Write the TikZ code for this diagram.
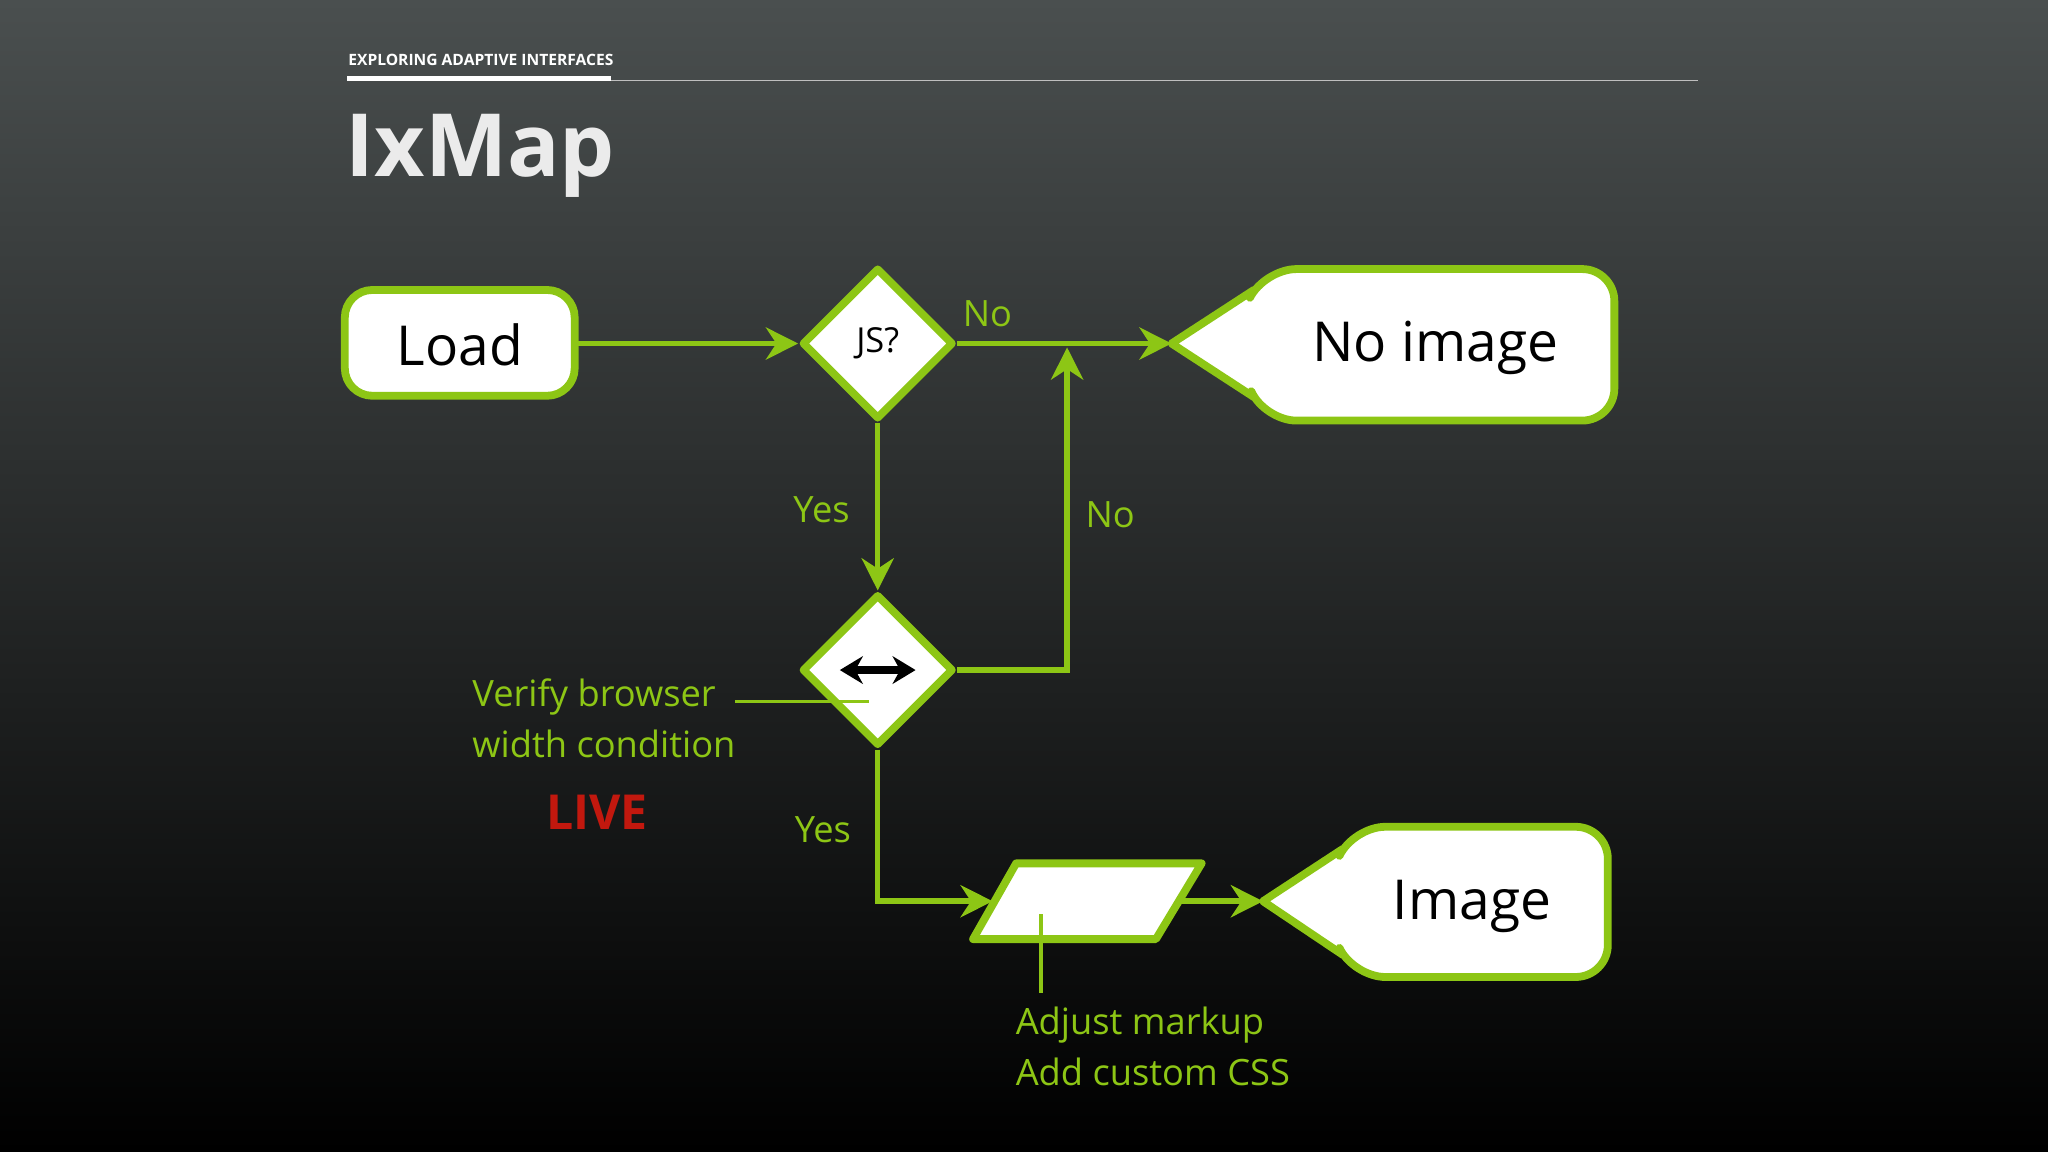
\documentclass[tikz,border=0pt]{standalone}
\usepackage{fontspec}
\setmainfont{Open Sans}
\usetikzlibrary{arrows.meta,shapes.geometric}
\definecolor{gr}{HTML}{8DC615}
\definecolor{lv}{HTML}{C2180E}
\definecolor{bgtop}{HTML}{4A4F4F}
\tikzset{
 shp/.style={draw=gr,fill=white,line width=1.7pt,line join=round},
 con/.style={draw=gr,line width=1.2pt},
 arr/.style={con,-{Stealth[length=7pt,width=7pt]}},
 lbl/.style={text=gr,font=\fontsize{7.9}{10}\selectfont,inner sep=0pt},
 big/.style={font=\fontsize{12}{14}\selectfont}
}
\begin{document}
\begin{tikzpicture}[x=0.1mm,y=0.1mm]
\shade[top color=bgtop,bottom color=black] (0,0) rectangle (1568,-882);
\useasboundingbox (0,0) rectangle (1568,-882);
% header
\node[anchor=base west,inner sep=0pt,text=white,font=\bfseries\fontsize{3.4}{4}\selectfont] (hdr) at (266,-50) {EXPLORING ADAPTIVE INTERFACES};
\draw[white!75!black,line width=0.35pt] (468,-61.5) -- (1300,-61.5);
\draw[white,line width=1.1pt] (266,-60) -- (468,-60);
\node[anchor=base west,inner sep=0pt,text=white!92!black,font=\bfseries\fontsize{19}{22}\selectfont] (title) at (264,-135) {IxMap};
% shapes
\draw[shp,rounded corners=6pt] (264,-222) rectangle (440,-303);
\node[big] (load) at (352,-264) {Load};
\coordinate (loadR) at (441,-263);
\node[shp,diamond,minimum width=33pt,minimum height=33pt,inner sep=0pt,font=\fontsize{7.5}{9}\selectfont] (js) at (672,-263) {JS?};
\node[shp,diamond,minimum width=33pt,minimum height=33pt,inner sep=0pt] (w) at (672,-513) {};
\draw[line width=1.6pt,{Stealth[length=5pt,width=6pt]}-{Stealth[length=5pt,width=6pt]}] (643,-513) -- (701,-513);
% no image callout
\draw[shp] (897,-263) -- (960,-222) [rounded corners=7pt] -- (968,-206) -- (1236,-206) -- (1236,-322) -- (968,-322) [sharp corners] -- (960,-304) -- cycle;
\coordinate (nitip) at (897,-263);
\node[big] (noimg) at (1099,-266) {No image};
% image callout
\draw[shp] (967,-690) -- (1028,-650) [rounded corners=7pt] -- (1036,-633) -- (1231,-633) -- (1231,-748) -- (1036,-748) [sharp corners] -- (1028,-731) -- cycle;
\coordinate (imtip) at (967,-690);
\node[big] (img) at (1127,-694) {Image};
% parallelogram
\draw[shp] (745,-719) -- (778,-661) -- (920,-661) -- (885,-719) -- cycle;
\coordinate (parL) at (760,-690);
\coordinate (parR) at (903,-690);
% connectors
\draw[arr] (loadR) -- (js.west);
\draw[arr] (js.east) -- (nitip);
\draw[arr] (js.south) -- (w.north);
\coordinate (up) at (817,-513);
\coordinate (upEnd) at (817,-266);
\draw[arr] (w.east) -- (up) -- (upEnd);
\coordinate (dn) at (672,-690);
\draw[arr] (w.south) -- (dn) -- (parL);
\draw[arr] (parR) -- (imtip);
% labels
\node[lbl] (no1) at (756,-240) {No};
\node[lbl] (no2) at (850,-394) {No};
\node[lbl] (yes1) at (629,-390) {Yes};
\node[lbl] (yes2) at (630,-635) {Yes};
\node[lbl,anchor=north west,align=left,font=\fontsize{7.9}{11.1}\selectfont] (verify) at (361,-519) {Verify browser\\width condition};
\coordinate (vR) at (665,-537);
\draw[con,line width=0.8pt] (563,-537) -- (vR);
\node[inner sep=0pt,text=lv,font=\bfseries\fontsize{10.5}{12}\selectfont] (live) at (457,-622) {LIVE};
\coordinate (aTop) at (797,-700);
\draw[con,line width=0.8pt] (aTop) -- (797,-760);
\node[lbl,anchor=north west,align=left,font=\fontsize{7.9}{11.1}\selectfont] (adj) at (777,-770) {Adjust markup\\Add custom CSS};
\end{tikzpicture}
\end{document}
